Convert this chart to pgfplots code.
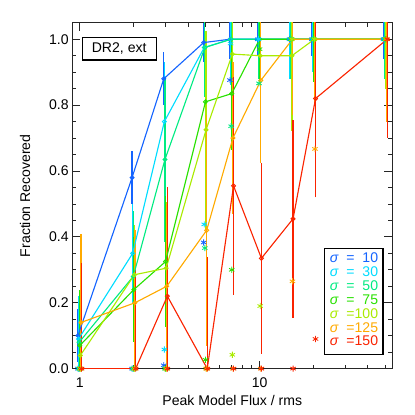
\documentclass[border=0pt]{standalone}
\usepackage{fontspec}
\setmainfont{Liberation Sans}
\usepackage{pgfplots}
\usepackage{pgfplotstable}
\pgfplotsset{compat=1.18}

\definecolor{sigblue}{RGB}{20,100,255}
\definecolor{sigcyan}{RGB}{0,220,255}
\definecolor{sigspring}{RGB}{0,235,130}
\definecolor{siggreen}{RGB}{40,225,0}
\definecolor{sigyellow}{RGB}{170,235,0}
\definecolor{sigorange}{RGB}{255,170,0}
\definecolor{sigred}{RGB}{250,35,0}

% x, fraction, error, asterisk value
\pgfplotstableread{
x y e s
1 0.10 0.08 0
2 0.58 0.08 0
3 0.88 0.08 0.01
5 0.99 0.06 0.383
7 1.00 0.06 0.876
10 1.00 0.05 1
15 1.00 0.06 1
20 1.00 0.05 1
50 1.00 0.06 1
}\sten
\pgfplotstableread{
x y e s
1 0.09 0.13 0
2 0.35 0.15 0
3 0.75 0.18 0.058
5 0.975 0.12 0.438
7 1.00 0.14 0.987
10 1.00 0.12 1
15 1.00 0.12 1
20 1.00 0.10 1
50 1.00 0.10 1
}\sthirty
\pgfplotstableread{
x y e s
1 0.08 0.16 0
2 0.28 0.20 0
3 0.635 0.25 0
5 0.975 0.15 0.366
7 1.00 0.14 0.736
10 1.00 0.12 0.866
15 1.00 0.12 1
20 1.00 0.12 1
50 1.00 0.12 1
}\sfifty
\pgfplotstableread{
x y e s
1 0.07 0.17 0
2 0.24 0.16 0
3 0.325 0.20 0
5 0.81 0.14 0.027
7 0.835 0.17 0.30
10 1.00 0.13 0.97
15 1.00 0.13 1
20 1.00 0.13 1
50 1.00 0.13 1
}\sseventyfive
\pgfplotstableread{
x y e s
1 0.04 0.20 0
2 0.285 0.15 0
3 0.305 0.20 0
5 0.725 0.30 0
7 0.955 0.25 0.042
10 0.95 0.23 0.19
15 0.95 0.23 1
20 1.00 0.20 1
50 1.00 0.15 1
}\shundred
\pgfplotstableread{
x y e s
1 0.14 0.27 0
2 0.20 0.22 0
3 0.25 0.25 0
5 0.42 0.35 0
7 0.70 0.23 0
10 0.875 0.25 0
15 1.00 0.23 0.265
20 1.00 0.20 0.667
50 1.00 0.25 1
}\sonetwentyfive
\pgfplotstableread{
x y s
1 0.00 0
2 0.00 0
3 0.22 0
5 0.00 0
7 0.555 0
10 0.335 0
15 0.455 0
20 0.82 0.09
50 1.00 1
}\sonefifty
% red error bars as low/high segments
\pgfplotstableread{
x y
1 -0.32
1 0.32
1 nan
2 -0.30
2 0.30
2 nan
3 -0.11
3 0.55
3 nan
5 -0.34
5 0.34
5 nan
7 0.225
7 0.885
7 nan
10 0.045
10 0.625
10 nan
15 0.155
15 0.755
15 nan
20 0.52
20 1.12
20 nan
50 0.70
50 1.30
}\sonefiftybars

\pgfplotsset{
  bars/.style={draw=none, mark=none, forget plot,
    error bars/y dir=both, error bars/y explicit, error bars/error mark=none,
    error bars/error bar style={line width=0.9pt, draw=#1, solid}},
  frac/.style={color=#1, line width=0.8pt, mark=o, mark size=1.4pt,
    mark options={solid, line width=0.7pt}},
  stars/.style={color=#1, only marks, mark=asterisk, mark size=2.2pt,
    mark options={line width=0.6pt}},
}

\begin{document}
\begin{tikzpicture}
\path[use as bounding box] (-18.1mm,-11.6mm) rectangle (85.6mm,92.2mm);
\begin{axis}[
  scale only axis, width=80mm, height=86.5mm,
  xmode=log, xmin=0.91, xmax=54.6, ymin=0, ymax=1.05,
  xtick={1,10}, xticklabels={1,10},
  minor xtick={2,3,4,5,6,7,8,9,20,30,40,50},
  ytick={0,0.2,0.4,0.6,0.8,1.0}, minor y tick num=3,
  yticklabel style={/pgf/number format/fixed, /pgf/number format/precision=1,
    /pgf/number format/fixed zerofill, xshift=0.3mm},
  xticklabel style={yshift=-1mm},
  /pgf/number format/assume math mode=true,
  tick align=inside, major tick length=2mm, minor tick length=1mm,
  axis line style={line width=0.8pt, black!85},
  every tick/.style={black!85, line width=0.6pt},
  font=\fontsize{10}{12}\selectfont,
  xlabel={Peak Model Flux / rms}, ylabel={Fraction Recovered},
  xlabel style={yshift=0.5mm}, ylabel style={yshift=2.3mm},
  unbounded coords=jump,
]
% error bars
\addplot[bars=sigblue, xshift=-0.45mm] table[x=x, y=y, y error=e] {\sten};
\addplot[bars=sigcyan, xshift=-0.3mm] table[x=x, y=y, y error=e] {\sthirty};
\addplot[bars=sigspring, xshift=-0.15mm] table[x=x, y=y, y error=e] {\sfifty};
\addplot[bars=siggreen] table[x=x, y=y, y error=e] {\sseventyfive};
\addplot[bars=sigyellow, xshift=0.15mm] table[x=x, y=y, y error=e] {\shundred};
\addplot[bars=sigorange, xshift=0.3mm] table[x=x, y=y, y error=e] {\sonetwentyfive};
\addplot[sigred, line width=0.9pt, mark=none, forget plot, xshift=0.45mm]
  table[x=x, y=y] {\sonefiftybars};
% lines
\addplot[frac=sigblue, xshift=-0.45mm] table[x=x, y=y] {\sten};
\addplot[frac=sigcyan, xshift=-0.3mm] table[x=x, y=y] {\sthirty};
\addplot[frac=sigspring, xshift=-0.15mm] table[x=x, y=y] {\sfifty};
\addplot[frac=siggreen] table[x=x, y=y] {\sseventyfive};
\addplot[frac=sigyellow, xshift=0.15mm] table[x=x, y=y] {\shundred};
\addplot[frac=sigorange, xshift=0.3mm] table[x=x, y=y] {\sonetwentyfive};
\addplot[frac=sigred, xshift=0.45mm] table[x=x, y=y] {\sonefifty};
% asterisks
\addplot[stars=sigblue, xshift=-0.45mm] table[x=x, y=s] {\sten};
\addplot[stars=sigcyan, xshift=-0.3mm] table[x=x, y=s] {\sthirty};
\addplot[stars=sigspring, xshift=-0.15mm] table[x=x, y=s] {\sfifty};
\addplot[stars=siggreen] table[x=x, y=s] {\sseventyfive};
\addplot[stars=sigyellow, xshift=0.15mm] table[x=x, y=s] {\shundred};
\addplot[stars=sigorange, xshift=0.3mm] table[x=x, y=s] {\sonetwentyfive};
\addplot[stars=sigred, xshift=0.45mm] table[x=x, y=s] {\sonefifty};
\node[draw, line width=0.8pt, anchor=north west, inner xsep=4pt, inner ysep=4pt,
  minimum width=18.5mm]
  at (rel axis cs:0.029,0.96) {DR2, ext};
\node[draw, line width=0.8pt, fill=white, anchor=south east, inner xsep=3.5pt, inner ysep=3pt]
  at (rel axis cs:0.973,0.04) {%
  \renewcommand{\arraystretch}{0.8}%
  \begin{tabular}{@{}l@{\hspace{0.55em}}l@{}r@{}}
  \color{sigblue}\textit{σ} & \color{sigblue}= & \color{sigblue}10\\
  \color{sigcyan}\textit{σ} & \color{sigcyan}= & \color{sigcyan}30\\
  \color{sigspring}\textit{σ} & \color{sigspring}= & \color{sigspring}50\\
  \color{siggreen}\textit{σ} & \color{siggreen}= & \color{siggreen}75\\
  \color{sigyellow}\textit{σ} & \color{sigyellow}= & \color{sigyellow}100\\
  \color{sigorange}\textit{σ} & \color{sigorange}= & \color{sigorange}125\\
  \color{sigred}\textit{σ} & \color{sigred}= & \color{sigred}150
  \end{tabular}};
\end{axis}
\end{tikzpicture}
\end{document}
